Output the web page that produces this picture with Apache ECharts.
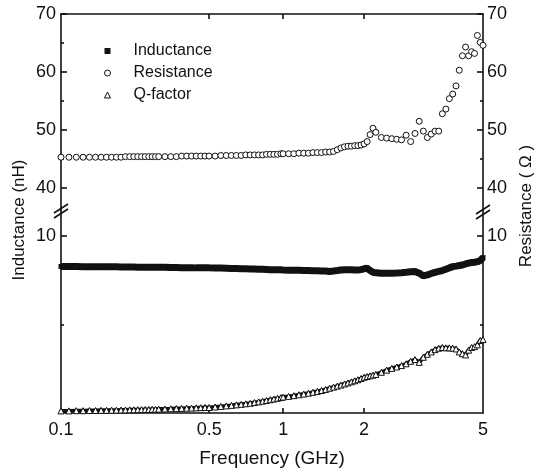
<!DOCTYPE html>
<html>
<head>
<meta charset="UTF-8" />
<title>Inductance / Resistance / Q-factor</title>
<style>
  html, body { margin: 0; padding: 0; background: #fff; }
  #chart { width: 536px; height: 473px; }
</style>
</head>
<body>
<div id="chart"></div>
<script src="https://cdn.jsdelivr.net/npm/echarts@6/dist/echarts.min.js"></script>
<script>
// frequency points (GHz)
const freqGHz = [0.10,0.11,0.12,0.13,0.14,0.15,0.16,0.17,0.18,0.19,0.20,0.21,0.22,0.23,0.24,0.25,0.26,0.27,0.28,0.29,0.30,
  0.32,0.34,0.36,0.38,0.40,0.42,0.44,0.46,0.48,0.50,
  0.53,0.56,0.59,0.62,0.65,0.68,0.71,0.74,0.77,0.80,0.83,0.86,0.89,0.92,0.95,0.98,1.00,
  1.05,1.10,1.15,1.20,1.25,1.30,1.35,1.40,1.45,1.50,1.55,1.60,1.65,1.70,1.75,1.80,1.85,1.90,1.95,2.00,
  2.05,2.10,2.15,2.20,2.30,2.40,2.50,2.60,2.70,2.80,2.90,3.00,3.10,3.20,3.30,3.40,3.50,3.60,3.70,3.80,3.90,4.00,4.10,4.20,4.30,4.40,4.50,4.60,4.70,4.80,4.90,5.00];

// resistance (ohm), upper part
const resistance = [45.3,45.3,45.3,45.3,45.3,45.3,45.3,45.3,45.3,45.3,45.3,45.4,45.4,45.4,45.4,45.4,45.4,45.4,45.4,45.4,45.4,
  45.4,45.4,45.4,45.5,45.5,45.5,45.5,45.5,45.5,45.5,
  45.5,45.6,45.6,45.6,45.6,45.6,45.7,45.7,45.7,45.7,45.7,45.8,45.8,45.8,45.8,45.9,45.9,
  45.9,45.9,46.0,46.0,46.0,46.1,46.1,46.1,46.2,46.2,46.3,46.6,46.9,47.1,47.2,47.2,47.3,47.3,47.4,47.6,
  48.0,49.2,50.3,49.6,48.7,48.6,48.5,48.4,48.3,49.1,48.0,49.4,51.5,49.8,48.7,49.3,49.8,49.8,52.8,53.6,55.4,56.2,57.6,60.3,62.8,64.3,62.8,63.5,63.2,66.3,65.1,64.6];

// inductance (nH), lower part
const inductance = [8.28,8.28,8.28,8.27,8.27,8.27,8.26,8.26,8.26,8.26,8.25,8.25,8.25,8.25,8.24,8.24,8.24,8.24,8.23,8.23,8.23,
  8.23,8.22,8.22,8.21,8.21,8.21,8.20,8.20,8.20,8.20,
  8.19,8.19,8.18,8.17,8.16,8.15,8.15,8.14,8.13,8.12,8.12,8.11,8.10,8.10,8.09,8.09,8.08,
  8.07,8.06,8.06,8.05,8.05,8.04,8.04,8.03,8.02,8.00,8.02,8.05,8.08,8.10,8.10,8.09,8.08,8.08,8.10,8.15,
  8.18,8.05,7.95,7.92,7.90,7.90,7.90,7.91,7.92,7.95,7.98,8.00,7.90,7.75,7.80,7.88,7.95,8.00,8.05,8.12,8.20,8.27,8.30,8.33,8.36,8.42,8.47,8.50,8.52,8.55,8.62,8.78];

// Q-factor, lower part
const qFactor = [0.12,0.12,0.13,0.13,0.14,0.14,0.15,0.15,0.16,0.16,0.17,0.17,0.18,0.18,0.19,0.19,0.20,0.20,0.21,0.21,0.22,
  0.23,0.24,0.25,0.26,0.27,0.28,0.29,0.30,0.31,0.31,
  0.34,0.37,0.40,0.43,0.46,0.49,0.52,0.55,0.59,0.63,0.67,0.71,0.75,0.79,0.83,0.87,0.90,
  0.94,0.98,1.03,1.07,1.12,1.17,1.22,1.27,1.33,1.40,1.46,1.52,1.58,1.64,1.70,1.76,1.82,1.88,1.95,2.02,
  2.06,2.10,2.14,2.18,2.30,2.42,2.52,2.60,2.68,2.78,2.92,3.02,2.86,3.15,3.32,3.45,3.58,3.66,3.70,3.68,3.68,3.66,3.62,3.45,3.35,3.28,3.55,3.70,3.75,3.85,4.10,4.15];

// tick labels
const xTicks = [0.1, 0.5, 1, 2, 5];
const xTickLabels = ['0.1', '0.5', '1', '2', '5'];
const upperTicks = [40, 50, 60, 70];
const upperMinor = [45, 55, 65];
const lowerTicks = [10];
const lowerMinor = [5];

// the frequency axis of the original is a compressed (power) scale
const P = 0.13;
const tx = f => Math.pow(f, P);
const xMin = tx(0.1), xMax = tx(5);

const FONT = "'Liberation Sans', Arial, sans-serif";
const INK = '#111';

const chart = echarts.init(document.getElementById('chart'));

const lineStyle = { color: INK, width: 1.6 };

function xAxisOf(grid, pos, showLabels) {
  return {
    type: 'value', gridIndex: grid, position: pos, min: xMin, max: xMax,
    axisLine: { show: true, onZero: false, lineStyle },
    axisTick: { show: true, inside: true, length: 5, lineStyle, customValues: [0.5, 1, 2].map(tx) },
    axisLabel: {
      show: showLabels, customValues: xTicks.map(tx), margin: 8,
      color: INK, fontSize: 18, fontFamily: FONT,
      formatter: v => {
        let k = 0;
        xTicks.forEach((t, i) => { if (Math.abs(tx(t) - v) < Math.abs(tx(xTicks[k]) - v)) k = i; });
        return xTickLabels[k];
      }
    },
    splitLine: { show: false }
  };
}

function yAxisOf(grid, pos, min, max, labels) {
  return {
    type: 'value', gridIndex: grid, position: pos, min, max,
    axisLine: { show: true, onZero: false, lineStyle },
    axisTick: { show: true, inside: true, length: 6, lineStyle, customValues: labels },
    axisLabel: { show: true, customValues: labels, margin: pos === 'left' ? 5 : 4, color: INK, fontSize: 18, fontFamily: FONT },
    splitLine: { show: false }
  };
}

function minorOf(grid, pos, min, max, vals) {
  return {
    type: 'value', gridIndex: grid, position: pos, min, max,
    axisLine: { show: false },
    axisTick: { show: true, inside: true, length: 3, lineStyle, customValues: vals },
    axisLabel: { show: false },
    splitLine: { show: false }
  };
}

const upMin = 36.2, upMax = 70;
const loMin = 0, loMax = 11.47;

// break marks on the two vertical axes
function breakMark(cx, cy) {
  return {
    type: 'group', x: cx, y: cy, z: 100,
    children: [
      { type: 'polygon', shape: { points: [[-7, 2], [7, -7], [7, -2], [-7, 7]] }, style: { fill: '#fff' } },
      { type: 'line', shape: { x1: -7, y1: 2, x2: 7, y2: -7 }, style: { stroke: INK, lineWidth: 1.6 } },
      { type: 'line', shape: { x1: -7, y1: 7, x2: 7, y2: -2 }, style: { stroke: INK, lineWidth: 1.6 } }
    ]
  };
}

chart.setOption({
  animation: false,
  backgroundColor: '#fff',
  textStyle: { fontFamily: FONT },
  grid: [
    { left: 61, right: 53, top: 14, height: 196, outerBoundsMode: 'none' },
    { left: 61, right: 53, top: 210, height: 203, outerBoundsMode: 'none' }
  ],
  legend: {
    orient: 'vertical', left: 104, top: 42, padding: 0,
    itemWidth: 6, itemHeight: 6, itemGap: 4, selectedMode: false,
    textStyle: { color: INK, fontSize: 16, lineHeight: 18, fontFamily: FONT, padding: [0, 0, 0, 18] },
    data: [
      { name: 'Inductance', icon: 'rect', itemStyle: { color: INK, borderWidth: 0 } },
      { name: 'Resistance', icon: 'circle', itemStyle: { color: '#fff', borderColor: INK, borderWidth: 1 } },
      { name: 'Q-factor', icon: 'triangle', itemStyle: { color: '#fff', borderColor: INK, borderWidth: 1 } }
    ]
  },
  xAxis: [
    xAxisOf(0, 'top', false),
    Object.assign(xAxisOf(1, 'bottom', true), {
      name: 'Frequency (GHz)', nameLocation: 'middle', nameGap: 36,
      nameTextStyle: { color: INK, fontSize: 19, fontFamily: FONT }
    })
  ],
  yAxis: [
    yAxisOf(0, 'left', upMin, upMax, upperTicks),
    yAxisOf(0, 'right', upMin, upMax, upperTicks),
    yAxisOf(1, 'left', loMin, loMax, lowerTicks),
    yAxisOf(1, 'right', loMin, loMax, lowerTicks),
    minorOf(0, 'left', upMin, upMax, upperMinor),
    minorOf(0, 'right', upMin, upMax, upperMinor),
    minorOf(1, 'left', loMin, loMax, lowerMinor),
    minorOf(1, 'right', loMin, loMax, lowerMinor)
  ],
  graphic: [
    breakMark(61, 211),
    breakMark(483, 212),
    { type: 'text', x: 19, y: 220, rotation: Math.PI / 2,
      style: { text: 'Inductance (nH)', fill: INK, font: '17px ' + FONT, align: 'center', verticalAlign: 'middle' } },
    { type: 'text', x: 526, y: 206, rotation: Math.PI / 2,
      style: { text: 'Resistance ( Ω )', fill: INK, font: '17px ' + FONT, align: 'center', verticalAlign: 'middle' } }
  ],
  series: [
    {
      name: 'Inductance', type: 'line', xAxisIndex: 1, yAxisIndex: 2,
      data: freqGHz.map((f, i) => [tx(f), inductance[i]]),
      symbol: 'rect', symbolSize: 5, showAllSymbol: true,
      itemStyle: { color: INK },
      lineStyle: { color: INK, width: 7 }, z: 3
    },
    {
      name: 'Resistance', type: 'scatter', xAxisIndex: 0, yAxisIndex: 0,
      data: freqGHz.map((f, i) => [tx(f), resistance[i]]),
      symbol: 'circle', symbolSize: 6,
      itemStyle: { color: '#fff', borderColor: INK, borderWidth: 1, opacity: 1 }, z: 3
    },
    {
      name: 'Q-factor', type: 'line', xAxisIndex: 1, yAxisIndex: 2,
      data: freqGHz.map((f, i) => [tx(f), qFactor[i]]),
      symbol: 'triangle', symbolSize: 6, showAllSymbol: true,
      itemStyle: { color: '#fff', borderColor: INK, borderWidth: 1 },
      lineStyle: { color: INK, width: 4 }, z: 3
    }
  ]
});
</script>
</body>
</html>
